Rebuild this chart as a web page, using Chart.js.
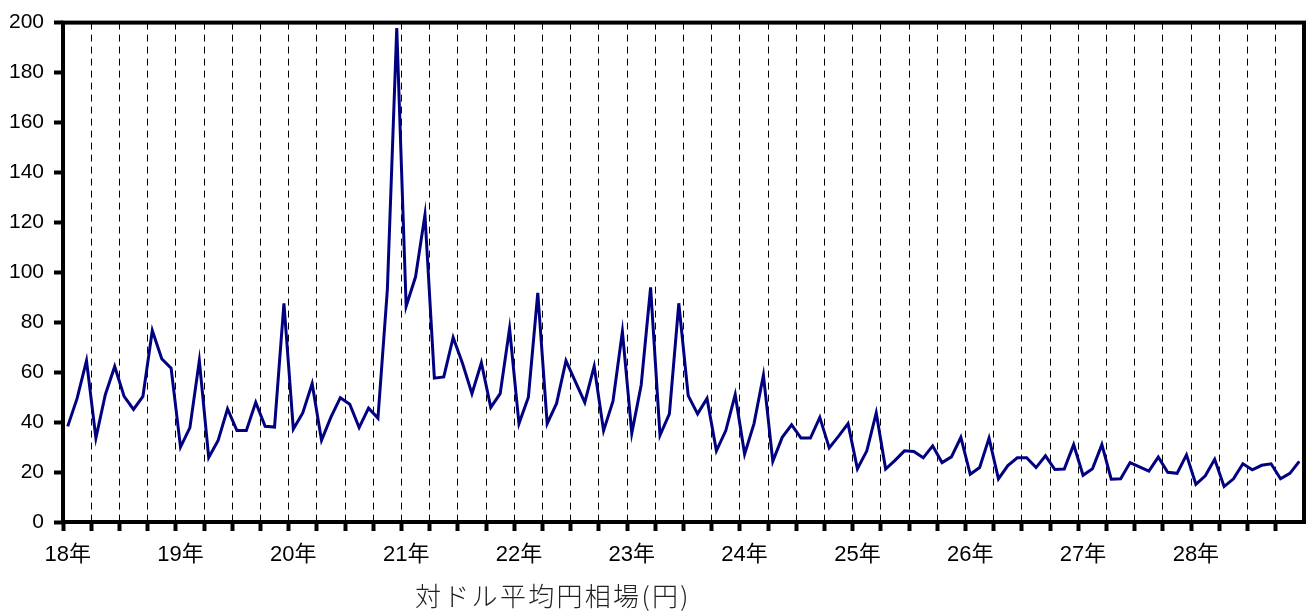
<!DOCTYPE html>
<html><head><meta charset="utf-8">
<script src="https://cdn.jsdelivr.net/npm/chart.js@4.4.1/dist/chart.umd.min.js"></script>
<style>
html,body{margin:0;padding:0;background:#fff;overflow:hidden}
#wrap{position:relative;width:1311px;height:614px}
#title{position:absolute;left:415px;top:579px;font-family:'Noto Sans CJK JP',sans-serif;font-size:26px;font-weight:300;letter-spacing:2.3px;color:#222;white-space:nowrap;line-height:32px}
</style></head><body>
<div id="wrap"><canvas id="c" width="1311" height="614"></canvas><div id="title">対ドル平均円相場(円)</div></div>
<script>
const yearLabels = ['18年','19年','20年','21年','22年','23年','24年','25年','26年','27年','28年'];
const monthNames = ['1月','2月','3月','4月','5月','6月','7月','8月','9月','10月','11月','12月'];
const yTicks = [0,20,40,60,80,100,120,140,160,180,200];
const rateValues = [
  38.3, 49.5, 64.6, 33.6, 51, 62.3, 50.3, 45.1, 50.3, 76.7, 65.4, 61.6,
  30, 37.8, 64.6, 25.8, 32.7, 45.3, 36.6, 36.6, 47.9, 38.3, 38, 87.6,
  37.2, 43.7, 55.4, 32.7, 42, 49.8, 47.2, 37.8, 45.6, 41.6, 93, 197.8,
  86.4, 98.2, 123, 57.6, 58.1, 73.9, 63.5, 51.4, 63.8, 45.9, 51.4, 77.5,
  39.4, 50, 91.8, 39.4, 47.5, 64.6, 56.2, 47.9, 62.4, 36.6, 48.4, 76.3,
  35.6, 54.9, 94, 34.7, 43.3, 87.6, 50.6, 43.3, 49.5, 28.5, 36.6, 51,
  27.2, 39.4, 58.8, 24.3, 33.9, 38.9, 33.6, 33.6, 41.9, 29.7, 34.4, 39.4,
  21.3, 28.5, 43.7, 21.2, 24.7, 28.5, 28.2, 25.7, 30.5, 23.8, 26.1, 33.9,
  19.1, 21.8, 33.6, 17.3, 22.6, 25.7, 25.7, 21.8, 26.5, 21, 21.2, 31,
  18.7, 21.3, 31, 17.1, 17.3, 23.8, 22.1, 20.4, 26, 19.9, 19.5, 26.9,
  15.1, 18.5, 25.1, 14.2, 17.3, 23.3, 20.9, 22.7, 23.3, 17.3, 19.5, 24.3
];
const categories = [];
yearLabels.forEach(y => monthNames.forEach(m => categories.push(y + m)));

const framePlugin = {
  id: 'frame',
  afterDatasetsDraw(chart) {
    const {ctx, chartArea: a} = chart;
    ctx.save();
    ctx.strokeStyle = '#000';
    ctx.lineWidth = 4;
    ctx.strokeRect(a.left, a.top, a.right - a.left, a.bottom - a.top);
    ctx.restore();
  }
};

const quarterColor = c => (c.index % 3 === 0 ? '#000' : 'rgba(0,0,0,0)');

new Chart(document.getElementById('c'), {
  type: 'line',
  data: {
    labels: categories,
    datasets: [{
      data: rateValues,
      borderColor: '#000080',
      borderWidth: 3,
      pointRadius: 0,
      tension: 0,
      fill: false
    }]
  },
  options: {
    responsive: false,
    animation: false,
    devicePixelRatio: 1,
    layout: {padding: {left: 0, right: 7, top: 19, bottom: 0}},
    plugins: {legend: {display: false}, tooltip: {enabled: false}},
    scales: {
      x: {
        type: 'category',
        offset: true,
        grid: {
          offset: true,
          color: quarterColor,
          lineWidth: 1,
          tickColor: quarterColor,
          tickLength: 9,
          tickWidth: 4,
          tickBorderDash: [],
          borderDash: [7, 5]
        },
        border: {display: false, dash: [7, 5]},
        ticks: {
          autoSkip: false,
          maxRotation: 0,
          minRotation: 0,
          padding: 11,
          color: '#000',
          font: {family: "'Liberation Sans', 'Noto Sans CJK JP'", size: 22},
          callback: (v, i) => (i % 12 === 0 ? yearLabels[i / 12] : '')
        },
        afterFit: s => { s.height = 92; }
      },
      y: {
        min: 0,
        max: 200,
        afterBuildTicks: s => { s.ticks = yTicks.map(v => ({value: v})); },
        ticks: {
          padding: 10,
          color: '#000',
          font: {family: "'Liberation Sans'", size: 21}
        },
        grid: {drawOnChartArea: false, tickLength: 9, tickWidth: 4, tickColor: '#000'},
        border: {display: false},
        afterFit: s => { s.width = 63; }
      }
    }
  },
  plugins: [framePlugin]
});
</script>
</body></html>
